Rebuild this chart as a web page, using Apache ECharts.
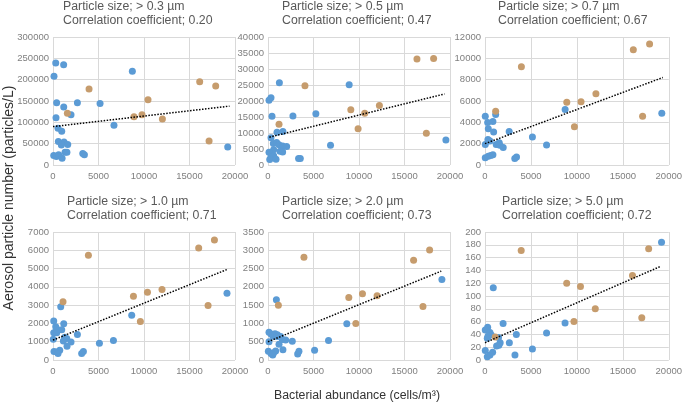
<!DOCTYPE html>
<html><head><meta charset="utf-8">
<script src="https://cdn.jsdelivr.net/npm/echarts@6/dist/echarts.min.js"></script>
<style>html,body{margin:0;padding:0;background:#fff}#c{width:685px;height:404px}</style>
</head><body><div id="c"></div>
<script>
// ---- data ----
const sizeLabels = ['> 0.3 µm','> 0.5 µm','> 0.7 µm','> 1.0 µm','> 2.0 µm','> 5.0 µm'];
const corrLabels = ['0.20','0.47','0.67','0.71','0.73','0.72'];
const xTicks = [0, 5000, 10000, 15000, 20000];
const yMax = [300000, 40000, 12000, 7000, 3500, 200];
const yStep = [50000, 5000, 2000, 1000, 500, 20];

const blue03 = [[300,239000],[1170,235000],[110,208000],[8720,220000],[400,146000],[1180,136000],[2680,146000],[5170,144000],[1980,118000],[330,111000],[6700,93000],[550,86000],[960,79000],[590,55000],[1210,54000],[1620,48000],[920,47000],[80,22000],[370,20000],[620,24000],[1000,16000],[1320,30000],[1530,30000],[3270,27000],[3450,24000],[19200,42000]];
const orange03 = [[1580,121000],[3960,178000],[8900,113000],[9780,118000],[10440,153000],[12020,108000],[16120,195000],[17150,56000],[17880,185000]];
const trend03 = [[0,90000],[19400,138000]];

const blue05 = [[1250,25700],[8920,25100],[330,21000],[110,20200],[440,15200],[2740,15300],[5260,16000],[990,10200],[1640,10500],[330,8500],[590,6700],[950,7000],[1210,6350],[1610,5900],[2050,5800],[6870,6200],[620,4800],[1320,4270],[1610,4050],[110,3950],[620,2900],[330,2600],[190,1700],[880,1800],[3360,2000],[3550,2000],[19550,7800]];
const orange05 = [[1210,12700],[4060,24800],[9100,17250],[9900,11300],[10630,16200],[12240,18600],[16370,33100],[17400,9900],[18200,33300]];
const trend05 = [[150,8700],[19400,22200]];

const blue07 = [[30,4580],[290,3990],[860,4080],[360,3400],[940,3090],[1160,4740],[2630,3150],[5160,2620],[6700,1870],[8720,5200],[30,1930],[320,2400],[540,2240],[1220,1930],[1550,2090],[1620,1840],[1980,1630],[30,690],[360,810],[620,900],[860,970],[3240,600],[3430,750],[19240,4860]];
const orange07 = [[1160,5050],[3960,9220],[8900,5890],[9730,3590],[10450,5920],[12070,6670],[16140,10810],[17150,4580],[17910,11350]];
const trend07 = [[0,2000],[19350,8200]];

const blue10 = [[850,2910],[80,2130],[1180,1980],[300,1820],[410,1690],[960,1660],[80,1490],[410,1490],[2680,1400],[30,1130],[1290,1250],[1510,1180],[1140,1040],[1980,980],[1540,750],[5100,910],[6640,1060],[8650,2450],[110,470],[440,440],[740,530],[550,350],[3150,350],[3340,460],[19120,3650]];
const orange10 = [[1100,3180],[3890,5730],[8840,3490],[9600,2110],[10380,3710],[11980,3860],[16010,6130],[17040,2980],[17740,6560]];
const trend10 = [[0,1090],[19120,4950]];

const blue20 = [[920,1650],[110,760],[330,710],[550,650],[770,720],[1030,690],[990,640],[1390,640],[1580,560],[1940,545],[2670,510],[1210,430],[110,500],[6650,530],[8660,990],[5120,270],[1640,280],[40,240],[330,175],[620,200],[840,245],[520,135],[3260,165],[3400,240],[19110,2200]];
const orange20 = [[1140,1500],[3950,2810],[8880,1710],[9650,1000],[10380,1810],[11990,1760],[16000,2730],[17030,1465],[17760,3010]];
const trend20 = [[0,500],[19040,2430]];

const blue50 = [[1970,57],[290,51],[30,47],[540,43],[680,39],[320,37],[250,34],[3410,40],[1470,35],[1650,27],[1260,22],[1510,23],[2650,27],[6700,42],[8710,58],[5160,17],[3260,8],[30,15],[250,5],[540,8],[830,12],[900,113],[19210,184]];
const orange50 = [[1110,36],[3940,171],[8890,120],[9680,60],[10390,115],[12000,80],[16050,132],[17060,66],[17810,174]];
const trend50 = [[0,27],[19060,146]];

const blues = [blue03, blue05, blue07, blue10, blue20, blue50];
const oranges = [orange03, orange05, orange07, orange10, orange20, orange50];
const trends = [trend03, trend05, trend07, trend10, trend20, trend50];

// ---- layout ----
const grids = [
  {left:53, top:37, width:182, height:128},
  {left:268, top:37, width:182, height:128},
  {left:485, top:37, width:185, height:128},
  {left:53, top:232, width:182, height:128},
  {left:268, top:232, width:182, height:128},
  {left:485, top:232, width:186, height:128}
];
const titlePos = [[63,0],[282,0],[498,0],[67,195],[282,195],[502,195]];

const FONT = 'Liberation Sans, Arial, sans-serif';
const gridLine = {show:true, lineStyle:{color:'#d9d9d9', width:1}};
const labelStyle = {color:'#7f7f7f', fontSize:9.5, fontFamily:FONT, formatter:v=>String(v)};

const option = {
  animation:false,
  backgroundColor:'#fff',
  title: titlePos.map((p,i)=>({
    left:p[0], top:p[1],
    text:'Particle size; ' + sizeLabels[i] + '\nCorrelation coefficient; ' + corrLabels[i],
    textStyle:{color:'#595959', fontSize:12.3, fontWeight:'normal', lineHeight:14, fontFamily:FONT},
    padding:0
  })),
  grid: grids,
  xAxis: grids.map((g,i)=>({
    type:'value', gridIndex:i, min:0, max:20000, interval:5000,
    axisLine:{show:false}, axisTick:{show:false},
    splitLine:gridLine,
    axisLabel:Object.assign({margin:6, showMaxLabel:true}, labelStyle)
  })),
  yAxis: grids.map((g,i)=>({
    type:'value', gridIndex:i, min:0, max:yMax[i], interval:yStep[i],
    axisLine:{show:false}, axisTick:{show:false},
    splitLine:gridLine,
    axisLabel:Object.assign({margin:4}, labelStyle)
  })),
  series: [].concat(...grids.map((g,i)=>[
    {type:'scatter', xAxisIndex:i, yAxisIndex:i, data:blues[i], symbolSize:7,
     itemStyle:{color:'#5b9bd5', opacity:1}, z:2},
    {type:'scatter', xAxisIndex:i, yAxisIndex:i, data:oranges[i], symbolSize:7,
     itemStyle:{color:'#c69c6d', opacity:1}, z:2},
    {type:'line', xAxisIndex:i, yAxisIndex:i, data:trends[i], symbol:'none',
     lineStyle:{color:'#000', width:1.5, type:[1.5,1.5]}, z:3}
  ])),
  graphic:[
    {type:'text', x:9, y:198, rotation:Math.PI/2,
     style:{text:'Aerosol particle number (particles/L)', fill:'#333', fontSize:14,
            fontFamily:FONT, textAlign:'center', textVerticalAlign:'middle'}},
    {type:'text', x:357, y:396,
     style:{text:'Bacterial abundance (cells/m³)', fill:'#333', fontSize:12.3,
            fontFamily:FONT, textAlign:'center', textVerticalAlign:'middle'}}
  ]
};
const chart = echarts.init(document.getElementById('c'), null, {renderer:'canvas'});
chart.setOption(option);
</script>
</body></html>
